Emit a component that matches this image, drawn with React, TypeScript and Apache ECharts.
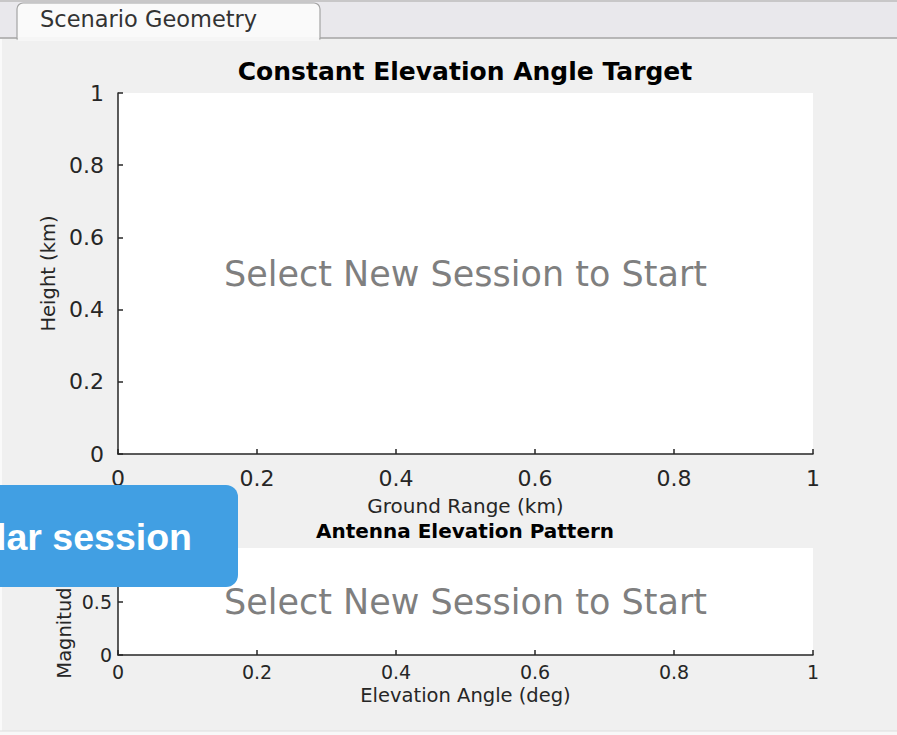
import React, { useEffect, useRef } from "react";
import * as echarts from "echarts";

// ---- data (axes ranges / ticks / texts) ----
const topXRange = [0, 1];
const topYRange = [0, 1];
const topXInterval = 0.2;
const topYInterval = 0.2;
const botXRange = [0, 1];
const botYRange = [0, 1];
const botXInterval = 0.2;
const botYInterval = 0.5;
const topSeries: number[][] = [];
const botSeries: number[][] = [];
const titles = ["Constant Elevation Angle Target", "Antenna Elevation Pattern"];
const xNames = ["Ground Range (km)", "Elevation Angle (deg)"];
const yNames = ["Height (km)", "Magnitude"];
const placeholder = "Select New Session to Start";
const tabLabel = "Scenario Geometry";
const bannerText = "Radar session";

const FONT = "DejaVu Sans";
const AX = "#262626";

export default function App() {
  const ref = useRef<HTMLDivElement>(null);
  useEffect(() => {
    if (!ref.current) return;
    const chart = echarts.init(ref.current, undefined, { renderer: "svg" });
    const axisCommon = (fs: number, margin: number) => ({
      axisLine: { show: true, lineStyle: { color: AX, width: 1.5 } },
      axisTick: { show: true, inside: true, length: 5, lineStyle: { color: AX, width: 1.5 } },
      axisLabel: { color: AX, fontSize: fs, fontFamily: FONT, margin },
      splitLine: { show: false },
    });
    chart.setOption({
      animation: false,
      backgroundColor: "#f0f0f0",
      grid: [
        { left: 118, top: 93, width: 695, height: 361, show: true, backgroundColor: "#fff", borderWidth: 0 },
        { left: 118, top: 548, width: 695, height: 107, show: true, backgroundColor: "#fff", borderWidth: 0 },
      ],
      xAxis: [
        {
          type: "value", gridIndex: 0, min: topXRange[0], max: topXRange[1], interval: topXInterval,
          name: xNames[0], nameLocation: "middle", nameGap: 42,
          nameTextStyle: { color: AX, fontSize: 20, fontFamily: FONT },
          ...axisCommon(22, 13),
        },
        {
          type: "value", gridIndex: 1, min: botXRange[0], max: botXRange[1], interval: botXInterval,
          name: xNames[1], nameLocation: "middle", nameGap: 30,
          nameTextStyle: { color: AX, fontSize: 19.5, fontFamily: FONT },
          ...axisCommon(19, 7),
        },
      ],
      yAxis: [
        {
          type: "value", gridIndex: 0, min: topYRange[0], max: topYRange[1], interval: topYInterval,
          name: yNames[0], nameLocation: "middle", nameGap: 60,
          nameTextStyle: { color: AX, fontSize: 19.5, fontFamily: FONT },
          ...axisCommon(22, 14),
        },
        {
          type: "value", gridIndex: 1, min: botYRange[0], max: botYRange[1], interval: botYInterval,
          ...axisCommon(19, 6),
        },
      ],
      series: [
        { type: "line", xAxisIndex: 0, yAxisIndex: 0, data: topSeries, silent: true },
        { type: "line", xAxisIndex: 1, yAxisIndex: 1, data: botSeries, silent: true },
      ],
      graphic: [
        // tab strip
        { type: "rect", shape: { x: 0, y: 0, width: 897, height: 38 }, style: { fill: "#e9e8ec" }, z: 1 },
        { type: "line", shape: { x1: 0, y1: 1, x2: 897, y2: 1 }, style: { stroke: "#bcbcbc", lineWidth: 1.5 }, z: 2 },
        { type: "line", shape: { x1: 0, y1: 38, x2: 897, y2: 38 }, style: { stroke: "#a4a4a4", lineWidth: 1.5 }, z: 2 },
        {
          type: "rect",
          shape: { x: 17, y: 3, width: 303, height: 36, r: [6, 6, 0, 0] },
          style: { fill: "#fafafa", stroke: "#a4a4a4", lineWidth: 1.2 },
          z: 3,
        },
        { type: "rect", shape: { x: 18, y: 37, width: 301, height: 4 }, style: { fill: "#f6f6f6" }, z: 4 },
        {
          type: "text", x: 40, y: 19, z: 5,
          style: { text: tabLabel, fontFamily: FONT, fontSize: 22.5, fill: "#333", verticalAlign: "middle" },
        },
        // panel edges
        { type: "line", shape: { x1: 1, y1: 39, x2: 1, y2: 731 }, style: { stroke: "#fafafa", lineWidth: 2 }, z: 2 },
        { type: "rect", shape: { x: 0, y: 731, width: 897, height: 4 }, style: { fill: "#f8f8f8" }, z: 2 },
        { type: "line", shape: { x1: 0, y1: 731, x2: 897, y2: 731 }, style: { stroke: "#dedede", lineWidth: 1 }, z: 2 },
        // titles
        {
          type: "text", x: 465, y: 71, z: 10,
          style: { text: titles[0], fontFamily: FONT, fontWeight: "bold", fontSize: 25, fill: "#000", align: "center", verticalAlign: "middle" },
        },
        {
          type: "text", x: 465, y: 531, z: 10,
          style: { text: titles[1], fontFamily: FONT, fontWeight: "bold", fontSize: 20, fill: "#000", align: "center", verticalAlign: "middle" },
        },
        // bottom y axis name
        {
          type: "text", x: 64, y: 627, z: 10, rotation: Math.PI / 2,
          style: { text: yNames[1], fontFamily: FONT, fontSize: 19.5, fill: AX, align: "center", verticalAlign: "middle" },
        },
        // placeholders
        {
          type: "text", x: 465.5, y: 273.5, z: 10,
          style: { text: placeholder, fontFamily: FONT, fontSize: 35, fill: "#7f7f7f", align: "center", verticalAlign: "middle" },
        },
        {
          type: "text", x: 465.5, y: 601.5, z: 10,
          style: { text: placeholder, fontFamily: FONT, fontSize: 35, fill: "#7f7f7f", align: "center", verticalAlign: "middle" },
        },
        // banner
        {
          type: "rect", z: 20,
          shape: { x: -30, y: 485, width: 268, height: 102, r: 12 },
          style: { fill: "#419fe3" },
        },
        {
          type: "text", x: 192, y: 537, z: 21,
          style: {
            text: bannerText, fontFamily: "Liberation Sans", fontWeight: "bold", fontSize: 37.5,
            fill: "#ffffff", align: "right", verticalAlign: "middle",
          },
        },
      ],
    });
    return () => chart.dispose();
  }, []);
  return (
    <div style={{ position: "fixed", left: 0, top: 0, width: 897, height: 735, background: "#f0f0f0" }}>
      <div ref={ref} style={{ width: 897, height: 735 }} />
    </div>
  );
}
